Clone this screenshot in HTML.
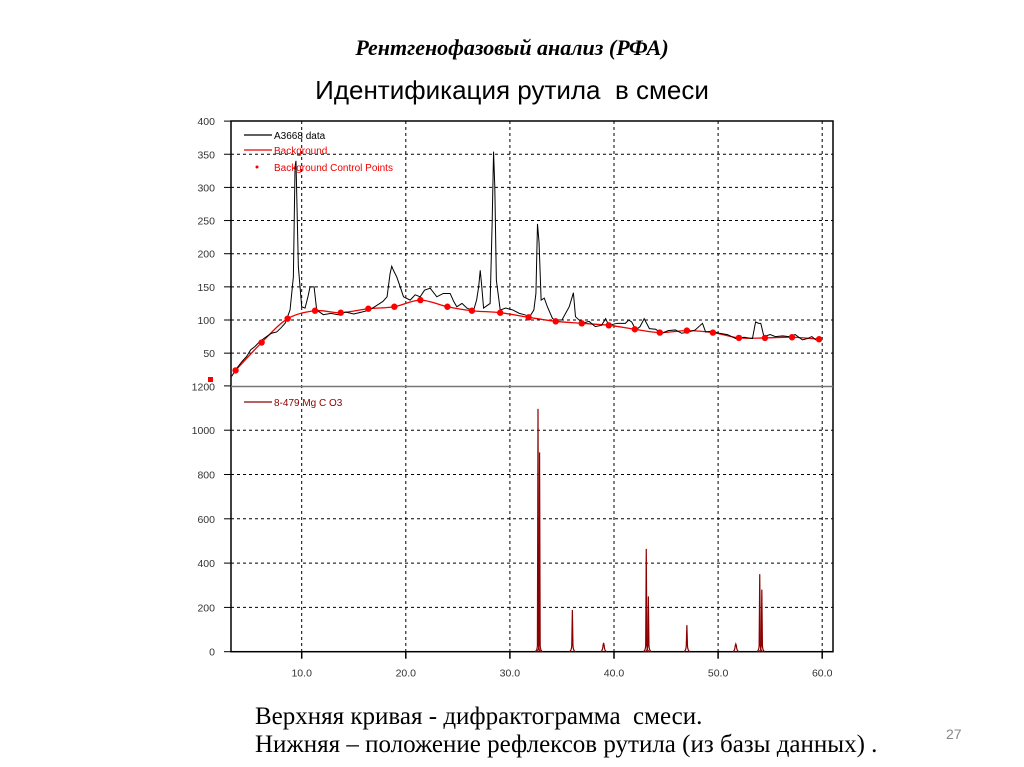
<!DOCTYPE html>
<html><head><meta charset="utf-8">
<style>
body{margin:0;background:#fff;width:1024px;height:767px;overflow:hidden;position:relative;font-family:"Liberation Sans",sans-serif}
.t1{position:absolute;left:0;width:1024px;top:35px;text-align:center;font:bold italic 22px "Liberation Serif",serif}
.t2{position:absolute;left:0;width:1024px;top:75px;text-align:center;font:26px "Liberation Sans",sans-serif}
.cap{position:absolute;left:255px;font:25px "Liberation Serif",serif;white-space:nowrap}
.pg{position:absolute;left:946px;top:726px;font:14px "Liberation Sans",sans-serif;color:#888}
svg{position:absolute;left:0;top:0}
</style></head><body>
<div class="t1">Рентгенофазовый анализ (РФА)</div>
<div class="t2">Идентификация рутила&nbsp; в смеси</div>
<div class="cap" style="top:703px">Верхняя кривая - дифрактограмма&nbsp; смеси.</div>
<div class="cap" style="top:731px">Нижняя – положение рефлексов рутила (из базы данных) .</div>
<div class="pg">27</div>
<svg id="chart" width="1024" height="767"></svg>
<script>
const xTicks=[10,20,30,40,50,60];
const topTicks=[50,100,150,200,250,300,350,400];
const botTicks=[0,200,400,600,800,1000,1200];
const dataX=[3.27,3.75,4.3,4.71,5.1,5.51,6.0,6.63,7.1,7.6,8.0,8.4,8.88,9.2,9.36,9.45,9.52,9.68,10.0,10.32,10.6,10.8,11.19,11.44,12.08,12.8,13.5,14.2,15.0,15.8,16.5,17.21,17.8,18.2,18.49,18.65,18.81,19.13,19.46,19.78,20.42,20.9,21.38,21.8,22.34,22.98,23.6,24.26,24.6,24.9,25.4,25.87,26.5,26.8,27.0,27.15,27.3,27.47,28.1,28.3,28.43,28.55,28.7,29.07,29.6,30.3,30.9,31.4,31.9,32.3,32.5,32.65,32.8,33.0,33.3,33.6,34.1,34.6,35.0,35.7,36.1,36.3,37.0,37.6,38.2,38.8,39.2,39.5,40.3,41.1,41.4,41.7,42.1,42.5,42.9,43.4,44.0,44.6,45.2,45.9,46.5,47.2,47.8,48.5,48.8,49.4,50.1,50.9,51.7,52.5,53.3,53.6,53.9,54.1,54.4,55.0,55.5,56.2,56.8,57.4,58.1,58.6,59.0,59.4,59.8];
const dataY=[15,27,38,45,55,60,68,75,80,82,88,95,115,165,331,340,291,180,120,118,135,150,150,115,108,110,108,112,109,112,115,122,128,135,170,181,175,165,150,135,130,138,135,145,148,135,140,140,128,120,125,118,114,130,150,175,150,118,125,250,354,300,160,115,118,115,110,108,105,115,140,245,217,130,133,120,102,100,100,120,141,105,95,98,90,92,102,92,95,95,100,97,85,90,102,87,86,80,84,85,80,82,85,95,82,83,80,78,72,74,72,97,95,95,75,78,75,76,75,78,70,72,75,70,70];
const bgX=[3.65,6.15,8.65,11.28,13.75,16.4,18.9,21.4,24.0,26.35,29.07,31.8,34.4,36.9,39.5,42.0,44.4,47.0,49.5,52.0,54.5,57.1,59.7];
const bgY=[24,66,102,114,111,117,120,130,120,114,111,104,98,95,92,86,81,84,81,73,73,74,71];
const refX=[32.7,32.85,36.0,39.0,43.1,43.3,47.0,51.7,54.0,54.2];
const refY=[1096,900,188,40,464,250,120,35,350,280];

const L=231,R=833,T=121,MID=386.5,B=651.7;
const X=v=>301.7+(v-10)*10.41;
const YT=v=>386.3-v*0.663;
const YB=v=>651.7-v*0.2215;
const svg=document.getElementById('chart');
const NS='http://www.w3.org/2000/svg';
function mk(tag,at,parent){const e=document.createElementNS(NS,tag);for(const k in at)e.setAttribute(k,at[k]);(parent||svg).appendChild(e);return e;}
xTicks.forEach(v=>{const g=mk('line',{x1:X(v),x2:X(v),y1:T,y2:B,stroke:'#000','stroke-dasharray':'3,3','stroke-width':1});


mk('line',{x1:X(v),x2:X(v),y1:B,y2:B+7,stroke:'#000','stroke-width':1.5});
const tx=mk('text',{x:X(v),y:B+25,'text-anchor':'middle','font-size':10.5,fill:'#333'});tx.textContent=v.toFixed(1);

});
topTicks.forEach(v=>{if(v<400){const g=mk('line',{x1:L,x2:R,y1:YT(v),y2:YT(v),stroke:'#000','stroke-dasharray':'3,3','stroke-width':1});

}
mk('line',{x1:L-7,x2:L,y1:YT(v),y2:YT(v),stroke:'#000'});
const tx=mk('text',{x:L-16,y:YT(v)+4,'text-anchor':'end','font-size':10.5,fill:'#333'});tx.textContent=v;

});
botTicks.forEach(v=>{if(v>0&&v<1200){const g=mk('line',{x1:L,x2:R,y1:YB(v),y2:YB(v),stroke:'#000','stroke-dasharray':'3,3','stroke-width':1});

}
mk('line',{x1:L-7,x2:L,y1:YB(v),y2:YB(v),stroke:'#000'});
if(v<1200){const tx=mk('text',{x:L-16,y:YB(v)+4,'text-anchor':'end','font-size':10.5,fill:'#333'});tx.textContent=v;

}});
mk('rect',{x:L,y:T,width:R-L,height:B-T,fill:'none',stroke:'#000','stroke-width':1.5});
mk('line',{x1:L,x2:R,y1:MID,y2:MID,stroke:'#777','stroke-width':1.5});
let p=[];for(let i=0;i<bgX.length;i++)p.push([X(bgX[i]),YT(bgY[i])]);
let d='M'+p[0][0]+','+p[0][1];
for(let i=0;i<p.length-1;i++){const p0=p[Math.max(0,i-1)],p1=p[i],p2=p[i+1],p3=p[Math.min(p.length-1,i+2)];
d+=' C'+(p1[0]+(p2[0]-p0[0])/6)+','+(p1[1]+(p2[1]-p0[1])/6)+' '+(p2[0]-(p3[0]-p1[0])/6)+','+(p2[1]-(p3[1]-p1[1])/6)+' '+p2[0]+','+p2[1];}
const bg=mk('path',{d:d,fill:'none',stroke:'#e00','stroke-width':1.3});


const dl=mk('polyline',{points:dataX.map((x,i)=>X(x)+','+YT(dataY[i])).join(' '),fill:'none',stroke:'#000','stroke-width':1});


bgX.forEach((x,i)=>{const c=mk('circle',{cx:X(x),cy:YT(bgY[i]),r:3.2,fill:'#f00'});

});
mk('rect',{x:208,y:377,width:5,height:5,fill:'#f00'});
refX.forEach((x,i)=>{const px=X(x);const pk=mk('path',{d:`M${px-3},${B} Q${px-0.8},${B-1} ${px-0.6},${B-6} L${px},${YB(refY[i])} L${px+0.6},${B-6} Q${px+0.8},${B-1} ${px+3},${B}`,fill:'none',stroke:'#8b0000','stroke-width':1.2});

});
function leg(y,col,txt,name,pt){if(pt)mk('circle',{cx:257,cy:y,r:1.5,fill:col});else mk('line',{x1:244,x2:272,y1:y,y2:y,stroke:col,'stroke-width':1.2});
const t=mk('text',{x:274,y:y+4,'font-size':10,fill:col});t.textContent=txt;

}
leg(135,'#000','A3668 data','legend-data');
leg(150,'#e00','Background','legend-background');
leg(167,'#e00','Background Control Points','legend-control-points',true);
leg(402,'#8b0000','8-479 Mg C O3','legend-reference');
const l12=mk('text',{x:L-16,y:MID+4,'text-anchor':'end','font-size':10.5,fill:'#333'});l12.textContent='1200';
</script>
</body></html>
